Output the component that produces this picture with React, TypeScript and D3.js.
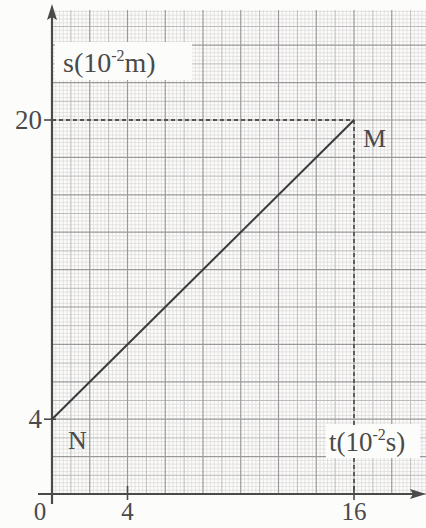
import React, { useEffect, useRef } from 'react';
import * as d3 from 'd3';

// values
const tTicks = [0, 4, 16];
const sTicks = [4, 20];
const lineT = [0, 16];
const lineS = [4, 20];
const pointNames = ['N', 'M'];

export default function App() {
  const ref = useRef<SVGSVGElement>(null);

  useEffect(() => {
    const width = 426, height = 528;
    const svg = d3.select(ref.current);
    svg.selectAll('*').remove();

    const x = d3.scaleLinear().domain([0, 16]).range([52, 354]);
    const y = d3.scaleLinear().domain([0, 20]).range([494, 120]);

    const gridLeft = 52, gridRight = 426, gridTop = 10, gridBottom = 494;

    svg.append('rect').attr('width', width).attr('height', height).attr('fill', '#fcfcfb');

    // graph paper
    const grid = svg.append('g');
    const xMax = x.invert(gridRight), yMax = y.invert(gridTop);
    const level = (v: number) => {
      const r = Math.round(v * 5);
      if (r % 10 === 0) return 2;
      if (r % 5 === 0) return 1;
      return 0;
    };
    const stroke = ['#dedcdc', '#bdbbbb', '#9a9898'];
    const sw = [0.8, 1, 1.2];
    const xs = d3.range(0, Math.round(xMax * 5) + 1).map(i => i / 5);
    const ys = d3.range(0, Math.round(yMax * 5) + 1).map(i => i / 5);
    [0, 1, 2].forEach(l => {
      grid.append('g').selectAll('line')
        .data(xs.filter(d => level(d) === l))
        .join('line')
        .attr('x1', d => x(d)).attr('x2', d => x(d))
        .attr('y1', gridTop).attr('y2', gridBottom)
        .attr('stroke', stroke[l]).attr('stroke-width', sw[l]);
      grid.append('g').selectAll('line')
        .data(ys.filter(d => level(d) === l))
        .join('line')
        .attr('y1', d => y(d)).attr('y2', d => y(d))
        .attr('x1', gridLeft).attr('x2', gridRight)
        .attr('stroke', stroke[l]).attr('stroke-width', sw[l]);
    });

    // white boxes behind the axis titles
    svg.append('rect').attr('x', 55).attr('y', 42).attr('width', 137).attr('height', 38).attr('fill', '#fcfcfb');
    svg.append('rect').attr('x', 326).attr('y', 424).attr('width', 94).attr('height', 34).attr('fill', '#fcfcfb');

    // dashed guides to M
    const dash = svg.append('g').attr('stroke', '#555').attr('stroke-width', 1.8).attr('stroke-dasharray', '4,3');
    dash.append('line').attr('x1', x(0)).attr('x2', x(lineT[1])).attr('y1', y(lineS[1])).attr('y2', y(lineS[1]));
    dash.append('line').attr('x1', x(lineT[1])).attr('x2', x(lineT[1])).attr('y1', y(lineS[1])).attr('y2', 426);
    dash.append('line').attr('x1', x(lineT[1])).attr('x2', x(lineT[1])).attr('y1', 458).attr('y2', y(0));

    // axes
    const axes = svg.append('g').attr('stroke', '#4a4a4a').attr('stroke-width', 2.2);
    axes.append('line').attr('x1', 38).attr('x2', 416).attr('y1', y(0)).attr('y2', y(0));
    axes.append('line').attr('x1', x(0)).attr('x2', x(0)).attr('y1', 504).attr('y2', 16);
    svg.append('path').attr('d', `M426,${y(0)} L410,${y(0) - 5} L413,${y(0)} L410,${y(0) + 5} Z`).attr('fill', '#4a4a4a');
    svg.append('path').attr('d', `M${x(0)},4 L${x(0) - 5},20 L${x(0)},17 L${x(0) + 5},20 Z`).attr('fill', '#4a4a4a');

    // ticks
    svg.append('g').selectAll('line').data(tTicks.filter(d => d > 0)).join('line')
      .attr('x1', d => x(d)).attr('x2', d => x(d)).attr('y1', y(0) - 8).attr('y2', y(0) + 6)
      .attr('stroke', '#4a4a4a').attr('stroke-width', 1.6);
    svg.append('g').selectAll('line').data(sTicks).join('line')
      .attr('x1', x(0) - 8).attr('x2', x(0) + 4).attr('y1', d => y(d)).attr('y2', d => y(d))
      .attr('stroke', '#4a4a4a').attr('stroke-width', 1.6);

    // data line N -> M
    const line = d3.line<number>().x((_, i) => x(lineT[i])).y(d => y(d));
    svg.append('path').attr('d', line(lineS)).attr('fill', 'none').attr('stroke', '#3a3a3a').attr('stroke-width', 2);

    const text = svg.append('g').attr('font-family', '"Liberation Serif", serif').attr('fill', '#4a4a4a');
    text.selectAll('text.tx').data(tTicks).join('text').attr('class', 'tx')
      .attr('x', d => x(d) + (d === 0 ? -12 : 0)).attr('y', 520)
      .attr('text-anchor', 'middle').attr('font-size', 25)
      .text(d => String(d));
    text.selectAll('text.ty').data(sTicks).join('text').attr('class', 'ty')
      .attr('x', x(0) - 10).attr('y', d => y(d) + 9)
      .attr('text-anchor', 'end').attr('font-size', 27)
      .text(d => String(d));

    // point names
    text.append('text').attr('x', x(lineT[0]) + 16).attr('y', y(lineS[0]) + 30).attr('font-size', 26).text(pointNames[0]);
    text.append('text').attr('x', x(lineT[1]) + 9).attr('y', y(lineS[1]) + 27).attr('font-size', 26).text(pointNames[1]);

    // axis titles
    const sLabel = text.append('text').attr('x', 63).attr('y', 72).attr('font-size', 28);
    sLabel.append('tspan').text('s(10');
    sLabel.append('tspan').attr('dy', -11).attr('font-size', 16).text('-2');
    sLabel.append('tspan').attr('dy', 11).text('m)');
    const tLabel = text.append('text').attr('x', 329).attr('y', 451).attr('font-size', 27);
    tLabel.append('tspan').text('t(10');
    tLabel.append('tspan').attr('dy', -11).attr('font-size', 16).text('-2');
    tLabel.append('tspan').attr('dy', 11).text('s)');
  }, []);

  return (
    <div style={{ position: 'absolute', left: 0, top: 0 }}>
      <svg ref={ref} width={426} height={528} style={{ display: 'block' }} />
    </div>
  );
}
